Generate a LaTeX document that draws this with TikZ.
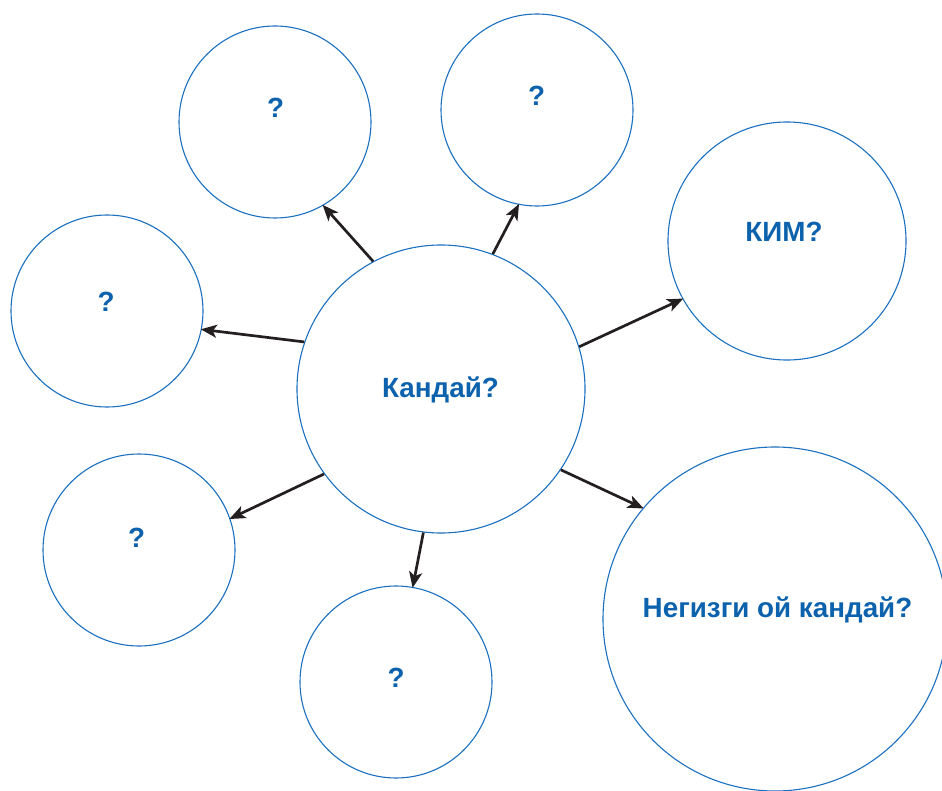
\documentclass[tikz,border=0pt]{standalone}
\usepackage{fontspec}
\setmainfont{Liberation Sans}
\usetikzlibrary{arrows.meta}

\definecolor{ringblue}{RGB}{28,112,192}
\definecolor{textblue}{RGB}{12,98,172}
\definecolor{arrowgray}{RGB}{35,31,32}

\tikzset{
    bubble/.style={circle, draw=ringblue, line width=1.1pt, fill=white, inner sep=0pt},
    tag/.style={font=\bfseries\fontsize{27.8}{30}\selectfont, text=textblue,
        anchor=base, inner sep=0pt},
    link/.style={draw=arrowgray, line width=2.7pt,
        -{Stealth[length=16pt, width=13pt, inset=4pt]}, shorten >=-1pt}
}

\begin{document}
\begin{tikzpicture}[x=1pt, y=-1pt]
            \useasboundingbox (0,0) rectangle (942,791);
            \clip (0,0) rectangle (942,791);
            % circles
            \node[bubble, minimum size=288pt] (center) at (441,389) {};
            \node[bubble, minimum size=192pt] (q1) at (275,122) {};
            \node[bubble, minimum size=192pt] (q2) at (537,110) {};
            \node[bubble, minimum size=238pt] (kim) at (787,241) {};
            \node[bubble, minimum size=192pt] (q3) at (107,311) {};
            \node[bubble, minimum size=192pt] (q4) at (139,550) {};
            \node[bubble, minimum size=192pt] (q5) at (396,682) {};
            \node[bubble, minimum size=344pt] (main) at (775,619) {};
            % texts
            \node[tag] (centertext) at (440.5,397) {Кандай?};
            \node[tag] (q1text) at (275.5,118) {?};
            \node[tag] (q2text) at (536.5,106) {?};
            \node[tag] (kimtext) at (784,242) {КИМ?};
            \node[tag] (q3text) at (106,312) {?};
            \node[tag] (q4text) at (136.5,547) {?};
            \node[tag] (q5text) at (396,687) {?};
            \node[tag] (maintext) at (777.5,617) {Негизги ой кандай?};
            % arrows
            \draw[link] (center.118) -- (q1.-60);
            \draw[link] (center.69) -- (q2.-101);
            \draw[link] (center.17) -- (kim.-151);
            \draw[link] (center.161) -- (q3.-11);
            \draw[link] (center.216) -- (q4.19);
            \draw[link] (center.263) -- (q5.80);
            \draw[link] (center.-34) -- (main.140);
        \end{tikzpicture}
\end{document}
